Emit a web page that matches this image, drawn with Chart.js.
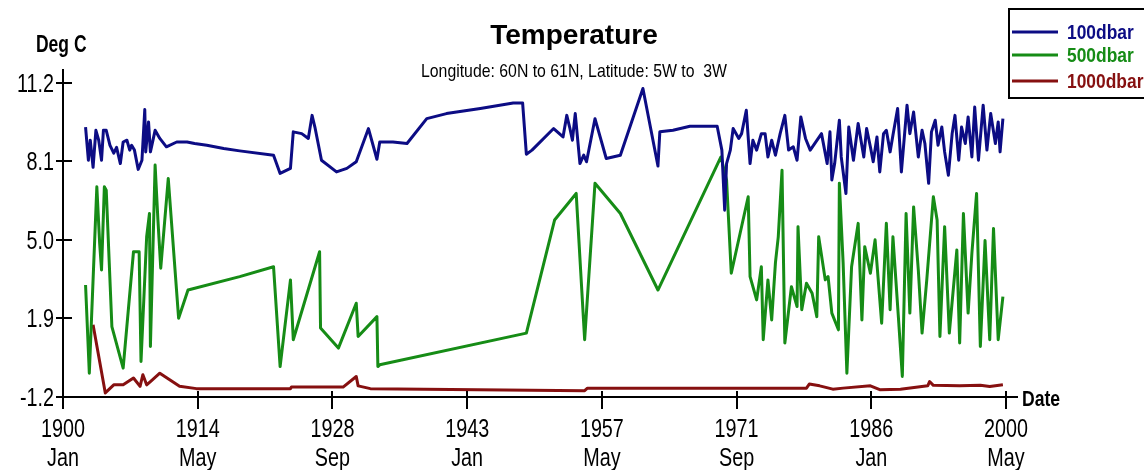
<!DOCTYPE html>
<html>
<head>
<meta charset="utf-8">
<title>Temperature</title>
<script src="https://cdn.jsdelivr.net/npm/chart.js@4.4.1/dist/chart.umd.min.js"></script>
<style>
  html, body { margin: 0; padding: 0; background: #fff; }
  #wrap { position: relative; width: 1144px; height: 470px; }
</style>
</head>
<body>
<div id="wrap"><canvas id="tempChart"></canvas></div>
<script>
// x axis is in decimal years
const xTickVals = [1900, 1914.333, 1928.667, 1943, 1957.333, 1971.667, 1986, 2000.333];
const xTickLabels = [['1900', 'Jan'], ['1914', 'May'], ['1928', 'Sep'], ['1943', 'Jan'],
                     ['1957', 'May'], ['1971', 'Sep'], ['1986', 'Jan'], ['2000', 'May']];
const yTickVals = [-1.2, 1.9, 5.0, 8.1, 11.2];

const seriesNames = ['100dbar', '500dbar', '1000dbar'];
const seriesColors = ['#0c0c84', '#168c16', '#861010'];

// 100dbar
const years100 = [1902.4,1902.7,1902.9,1903.2,1903.5,1903.8,1904.1,1904.3,1904.6,1905.0,
  1905.4,1905.7,1906.1,1906.4,1906.8,1907.1,1907.3,1907.6,1908.0,1908.4,
  1908.7,1908.8,1909.1,1909.3,1909.8,1910.3,1911.0,1912.1,1913.2,1914.0,
  1915.3,1917.1,1918.8,1922.4,1923.1,1924.2,1924.5,1925.4,1926.1,1926.5,
  1926.8,1927.5,1929.1,1930.2,1931.2,1932.5,1933.4,1933.7,1935.1,1936.6,
  1938.7,1940.8,1944.4,1947.9,1948.9,1949.3,1949.9,1952.2,1953.2,1953.6,
  1953.9,1954.2,1954.5,1954.7,1955.0,1955.4,1955.7,1956.6,1957.8,1959.3,
  1961.7,1963.3,1963.5,1964.9,1966.7,1969.6,1970.1,1970.4,1970.6,1971.0,
  1971.3,1971.9,1972.2,1972.7,1973.1,1973.4,1973.8,1974.3,1974.7,1975.0,
  1975.4,1975.8,1976.3,1976.8,1977.2,1977.7,1978.1,1978.5,1979.0,1979.5,
  1980.7,1981.3,1981.6,1981.8,1982.1,1982.6,1982.8,1983.3,1983.6,1984.1,
  1984.6,1985.2,1985.5,1985.9,1986.2,1986.6,1986.9,1987.3,1987.6,1988.0,
  1988.3,1988.8,1989.2,1989.8,1990.1,1990.5,1991.0,1991.4,1991.7,1992.1,
  1992.4,1992.8,1993.1,1993.5,1993.8,1994.2,1994.6,1994.9,1995.3,1995.6,
  1996.0,1996.3,1996.7,1997.0,1997.4,1997.9,1998.3,1998.7,1999.2,1999.5,
  1999.7,2000.0];
const temps100 = [9.45,8.14,8.93,7.86,9.32,8.93,8.14,9.32,9.32,8.73,
  8.42,8.65,8.01,8.86,8.93,8.54,8.73,8.54,7.78,8.14,
  10.14,8.47,9.65,8.47,9.32,9.0,8.67,8.86,8.86,8.8,
  8.73,8.6,8.51,8.34,7.62,7.82,9.26,9.19,9.0,9.91,
  9.45,8.14,7.68,7.82,8.08,9.39,8.18,8.86,8.86,8.8,
  9.78,9.98,10.18,10.4,10.4,8.38,8.54,9.39,9.06,9.91,
  9.45,8.93,9.98,9.19,8.01,8.34,8.08,9.78,8.21,8.34,
  10.97,7.91,9.26,9.32,9.48,9.48,8.54,6.17,8.01,8.54,
  9.39,9.0,9.19,10.11,8.01,8.93,8.54,9.19,9.19,8.27,
  8.93,8.34,9.19,9.91,8.54,8.67,8.14,9.85,9.0,8.54,
  9.19,8.01,9.26,7.36,8.01,9.72,8.27,6.83,9.45,8.14,
  9.59,8.27,9.39,8.67,8.08,9.06,7.68,9.19,9.32,8.47,
  9.13,10.18,7.68,10.31,9.19,10.04,8.27,9.32,8.8,7.23,
  9.26,9.72,8.73,9.45,8.47,7.55,9.19,9.91,8.14,9.45,
  8.8,9.85,8.27,10.24,8.14,10.31,8.54,9.98,8.8,9.65,
  8.47,9.78];

// 500dbar
const years500 = [1902.4,1902.8,1903.2,1903.6,1903.9,1904.1,1904.4,1904.6,1905.2,1906.4,
  1907.5,1908.1,1908.3,1908.9,1909.2,1909.3,1909.8,1910.1,1910.4,1911.2,
  1912.3,1913.3,1918.8,1922.4,1923.1,1924.2,1924.5,1927.3,1927.4,1929.3,
  1931.2,1931.4,1933.4,1933.5,1933.7,1949.3,1952.3,1954.6,1955.5,1956.6,
  1959.3,1963.3,1970.0,1970.6,1971.1,1972.9,1973.1,1973.8,1974.3,1974.5,
  1975.0,1975.4,1975.8,1976.1,1976.5,1976.8,1977.5,1978.1,1978.2,1978.6,
  1979.1,1979.7,1980.2,1980.4,1981.1,1981.4,1981.8,1982.5,1982.6,1983.0,
  1983.4,1983.9,1984.6,1985.0,1985.3,1985.9,1986.4,1987.1,1987.6,1988.0,
  1988.3,1988.9,1989.3,1989.7,1990.1,1990.5,1991.0,1991.4,1991.9,1992.6,
  1993.0,1993.3,1993.8,1994.3,1995.1,1995.4,1995.8,1996.3,1996.7,1997.2,
  1997.6,1998.1,1998.6,1999.0,1999.5,2000.0];
const temps500 = [3.22,-0.26,3.42,7.09,4.86,3.81,7.09,6.96,1.58,-0.06,
  4.53,4.53,0.2,5.12,6.04,0.79,7.95,5.78,3.88,7.42,
  1.91,3.02,3.55,3.94,0.0,3.42,1.06,4.53,1.52,0.73,
  2.5,1.19,1.97,0.0,0.07,1.32,5.78,6.83,1.06,7.23,
  6.04,3.02,8.27,7.36,3.68,6.7,3.55,2.63,3.94,1.06,
  3.42,1.84,4.1,5.12,7.75,0.93,3.15,2.37,5.52,2.24,
  3.29,2.89,1.97,5.12,3.42,3.55,2.11,1.45,7.23,4.1,
  -0.26,3.94,5.65,1.84,4.73,3.68,5.0,1.71,5.65,2.24,
  5.12,1.84,-0.39,6.04,2.11,6.3,3.81,1.32,3.42,6.7,
  5.78,1.19,5.52,1.32,4.6,0.93,6.04,2.11,4.47,6.83,
  0.79,4.97,1.06,5.45,1.06,2.76];

// 1000dbar
const years1000 = [1903.2,1904.5,1905.4,1906.4,1907.5,1908.2,1908.5,1908.9,1909.3,1910.3,
  1912.4,1914.2,1924.2,1924.3,1929.8,1931.2,1931.4,1932.7,1955.5,1955.8,
  1979.1,1979.4,1980.5,1981.9,1983.0,1985.9,1986.9,1989.1,1992.0,1992.2,
  1992.6,1995.4,1997.6,1998.6,2000.0];
const temps1000 = [1.65,-1.04,-0.72,-0.72,-0.45,-0.78,-0.32,-0.72,-0.59,-0.26,
  -0.78,-0.87,-0.87,-0.81,-0.81,-0.39,-0.76,-0.87,-0.95,-0.85,
  -0.85,-0.69,-0.76,-0.89,-0.85,-0.76,-0.91,-0.89,-0.76,-0.59,
  -0.74,-0.76,-0.74,-0.79,-0.72];

const SANS = "'Liberation Sans', Arial, sans-serif";

function toPoints(xs, ys) {
    return xs.map((x, i) => ({ x: x, y: ys[i] }));
}

const seriesData = [toPoints(years100, temps100), toPoints(years500, temps500), toPoints(years1000, temps1000)];

// the old chart font is tall and narrow, so squeeze the text sideways
function squeezedText(ctx, text, x, y, k) {
    ctx.save();
    ctx.translate(x, y);
    ctx.scale(k, 1);
    ctx.fillText(text, 0, 0);
    ctx.restore();
}

// tick labels, titles, axis names, legend box and the inner half of the cross ticks
const decorations = {
    id: 'decorations',
    afterDraw(chart) {
        const { ctx, chartArea } = chart;
        const xs = chart.scales.x;
        const ys = chart.scales.y;
        ctx.save();
        ctx.strokeStyle = '#000';
        ctx.lineWidth = 2;
        ctx.beginPath();
        xTickVals.forEach(v => {
            const px = Math.round(xs.getPixelForValue(v));
            ctx.moveTo(px, chartArea.bottom);
            ctx.lineTo(px, chartArea.bottom - 6);
        });
        yTickVals.forEach(v => {
            const py = Math.round(ys.getPixelForValue(v));
            ctx.moveTo(chartArea.left, py);
            ctx.lineTo(chartArea.left + 9, py);
        });
        ctx.stroke();

        ctx.fillStyle = '#000';
        ctx.textBaseline = 'alphabetic';

        // tick labels
        ctx.font = '26px ' + SANS;
        ctx.textAlign = 'center';
        xTickVals.forEach((v, i) => {
            const px = xs.getPixelForValue(v);
            squeezedText(ctx, xTickLabels[i][0], px, 437, 0.76);
            squeezedText(ctx, xTickLabels[i][1], px, 466, 0.76);
        });
        ctx.textAlign = 'right';
        yTickVals.forEach(v => {
            const py = ys.getPixelForValue(v);
            squeezedText(ctx, v.toFixed(1), 54, py + 9, 0.76);
        });

        // titles
        ctx.textAlign = 'center';
        ctx.font = 'bold 28px ' + SANS;
        ctx.fillText('Temperature', 574, 44);
        ctx.font = '19px ' + SANS;
        const sub = 'Longitude: 60N to 61N, Latitude: 5W to  3W';
        squeezedText(ctx, sub, 574, 77, 306 / ctx.measureText(sub).width);

        ctx.textAlign = 'left';
        ctx.font = 'bold 23px ' + SANS;
        squeezedText(ctx, 'Deg C', 36, 52, 0.76);
        ctx.font = 'bold 22px ' + SANS;
        squeezedText(ctx, 'Date', 1022, 406, 0.8);

        // legend
        ctx.strokeStyle = '#000';
        ctx.lineWidth = 2;
        ctx.strokeRect(1009, 9, 150, 89);
        const rowsY = [32, 55, 81];
        ctx.font = 'bold 20px ' + SANS;
        chart.data.datasets.forEach((ds, i) => {
            ctx.strokeStyle = ds.borderColor;
            ctx.lineWidth = 3;
            ctx.beginPath();
            ctx.moveTo(1012, rowsY[i]);
            ctx.lineTo(1058, rowsY[i]);
            ctx.stroke();
            ctx.fillStyle = ds.borderColor;
            squeezedText(ctx, ds.label, 1067, rowsY[i] + 7, 0.87);
        });
        ctx.restore();
    }
};

const ctx = document.getElementById('tempChart').getContext('2d');

const tempChart = new Chart(ctx, {
    type: 'line',
    data: {
        datasets: seriesNames.map((name, i) => ({
            label: name,
            data: seriesData[i],
            borderColor: seriesColors[i],
            backgroundColor: seriesColors[i],
            borderWidth: 3,
            borderJoinStyle: 'round',
            pointRadius: 0,
            tension: 0,
            fill: false
        }))
    },
    options: {
        responsive: true,
        maintainAspectRatio: false,
        animation: false,
        layout: { padding: { top: 70, right: 127, left: 0, bottom: 0 } },
        plugins: {
            legend: { display: false },
            title: { display: false },
            tooltip: { enabled: false }
        },
        scales: {
            x: {
                type: 'linear',
                min: 1900,
                max: 2001.5,
                afterBuildTicks: s => { s.ticks = xTickVals.map(v => ({ value: v })); },
                afterFit: s => { s.height = 73; s.paddingLeft = 0; s.paddingRight = 0; },
                ticks: { display: false },
                grid: { drawOnChartArea: false, drawTicks: true, tickLength: 12, color: '#000', lineWidth: 2 },
                border: { color: '#000', width: 2 }
            },
            y: {
                type: 'linear',
                min: -1.2,
                max: 11.7,
                afterBuildTicks: s => { s.ticks = yTickVals.map(v => ({ value: v })); },
                afterFit: s => { s.width = 63; s.paddingTop = 0; s.paddingBottom = 0; },
                ticks: { display: false },
                grid: { drawOnChartArea: false, drawTicks: true, tickLength: 7, color: '#000', lineWidth: 2 },
                border: { color: '#000', width: 2 }
            }
        }
    },
    plugins: [decorations]
});
</script>
</body>
</html>
